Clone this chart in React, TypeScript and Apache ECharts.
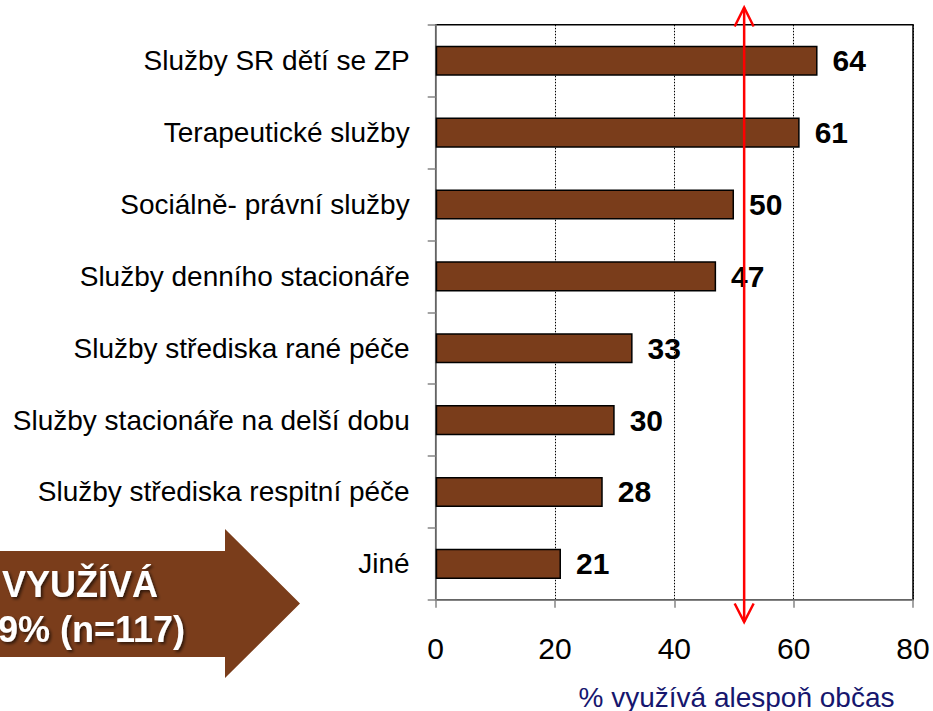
import React, { useEffect, useRef } from "react";
import * as echarts from "echarts";

const categories = [
  "Služby SR dětí se ZP",
  "Terapeutické služby",
  "Sociálně- právní služby",
  "Služby denního stacionáře",
  "Služby střediska rané péče",
  "Služby stacionáře na delší dobu",
  "Služby střediska respitní péče",
  "Jiné",
];
const values = [64, 61, 50, 47, 33, 30, 28, 21];
const axisMin = 0;
const axisMax = 80;
const axisInterval = 20;
const referenceValue = 51.7;
const axisTitle = "% využívá alespoň občas";
const calloutLines = ["VYUŽÍVÁ", "9% (n=117)"];

const BROWN = "#7A3D1B";
const FONT = "'Liberation Sans', Arial, sans-serif";

export default function App() {
  const ref = useRef<HTMLDivElement>(null);
  useEffect(() => {
    if (!ref.current) return;
    const chart = echarts.init(ref.current, undefined, { renderer: "svg" });
    chart.setOption({
      animation: false,
      backgroundColor: "#ffffff",
      textStyle: { fontFamily: FONT },
      grid: {
        left: 435.7,
        right: 20,
        top: 24.8,
        bottom: 111.2,
        show: true,
        borderColor: "#000",
        borderWidth: 1.5,
        containLabel: false,
      },
      xAxis: {
        type: "value",
        min: axisMin,
        max: axisMax,
        interval: axisInterval,
        axisLine: { show: true, lineStyle: { color: "#868686", width: 1.5 } },
        axisTick: { show: true, length: 8, lineStyle: { color: "#868686", width: 1.5 } },
        splitLine: { show: true, lineStyle: { color: "#000", type: [1.5, 1.5], width: 1 } },
        axisLabel: { fontSize: 30, color: "#000", margin: 34, fontFamily: FONT },
      },
      yAxis: {
        type: "category",
        data: categories,
        inverse: true,
        axisLine: { show: true, lineStyle: { color: "#868686", width: 1.5 } },
        axisTick: { show: true, length: 8, lineStyle: { color: "#868686", width: 1.5 } },
        axisLabel: { fontSize: 28, color: "#000", margin: 26, fontFamily: FONT },
        splitLine: { show: false },
      },
      series: [
        {
          type: "bar",
          data: values,
          barCategoryGap: "58%",
          itemStyle: { color: BROWN, borderColor: "#000", borderWidth: 1.5 },
          label: {
            show: true,
            position: "right",
            distance: 15,
            fontSize: 30,
            fontWeight: "bold",
            color: "#000",
            fontFamily: FONT,
          },
        },
      ],
    });

    const px = chart.convertToPixel({ xAxisIndex: 0 }, referenceValue) as number;
    const top = 7.5;
    const bottom = 622;
    const red = "#FF0000";
    const shadow = {
      textShadowColor: "rgba(0,0,0,0.6)",
      textShadowBlur: 3,
      textShadowOffsetX: 2,
      textShadowOffsetY: 2,
    };
    chart.setOption({
      graphic: [
        {
          type: "polygon",
          shape: {
            points: [
              [-5, 551],
              [225, 551],
              [225, 529],
              [300, 603.5],
              [225, 678],
              [225, 657],
              [-5, 657],
            ],
          },
          style: { fill: BROWN },
          z: 10,
        },
        {
          type: "text",
          x: 158,
          y: 584,
          style: {
            text: calloutLines[0],
            fill: "#fff",
            font: `bold 36px ${FONT}`,
            textAlign: "right",
            textVerticalAlign: "middle",
            ...shadow,
          },
          z: 11,
        },
        {
          type: "text",
          x: 185,
          y: 629,
          style: {
            text: calloutLines[1],
            fill: "#fff",
            font: `bold 36px ${FONT}`,
            textAlign: "right",
            textVerticalAlign: "middle",
            ...shadow,
          },
          z: 11,
        },
        {
          type: "line",
          shape: { x1: px, y1: top, x2: px, y2: bottom },
          style: { stroke: red, lineWidth: 2.5 },
          z: 20,
        },
        {
          type: "polyline",
          shape: { points: [[px - 9.5, top + 19], [px, top], [px + 9.5, top + 19]] },
          style: { stroke: red, lineWidth: 2.5, fill: "none" },
          z: 20,
        },
        {
          type: "polyline",
          shape: { points: [[px - 9.5, bottom - 18.5], [px, bottom], [px + 9.5, bottom - 18.5]] },
          style: { stroke: red, lineWidth: 2.5, fill: "none" },
          z: 20,
        },
        {
          type: "text",
          x: 736.5,
          y: 697,
          style: {
            text: axisTitle,
            fill: "#16166E",
            font: `28px ${FONT}`,
            textAlign: "center",
            textVerticalAlign: "middle",
          },
          z: 10,
        },
      ],
    });

    return () => chart.dispose();
  }, []);

  return (
    <div
      ref={ref}
      style={{ position: "absolute", left: 0, top: 0, width: 933, height: 711 }}
    />
  );
}
